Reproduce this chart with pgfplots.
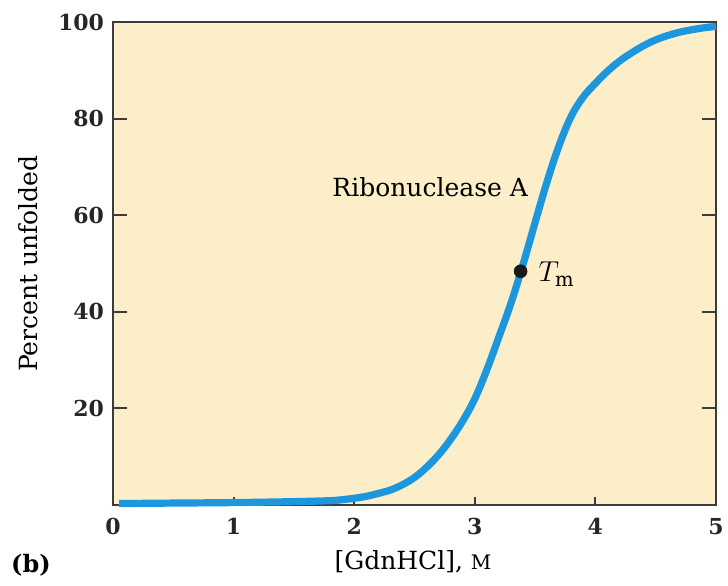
\documentclass[border=0pt]{standalone}
\usepackage{pgfplots}
\pgfplotsset{compat=1.18}
\usepackage{fontspec}
\setmainfont{DejaVu Serif}
\definecolor{bgpeach}{RGB}{253,238,202}
\definecolor{curveblue}{RGB}{28,150,220}
\definecolor{axgray}{RGB}{60,60,60}
\begin{document}
\begin{tikzpicture}
\begin{axis}[
  scale only axis,
  width=301.5pt, height=241.5pt,
  xmin=0, xmax=5, ymin=0, ymax=100,
  xtick={0,1,2,3,4,5},
  ytick={20,40,60,80,100},
  tick align=inside,
  xtick pos=bottom,
  ytick pos=both,
  major tick length=7pt,
  xtick style={/pgfplots/major tick length=4pt},
  axis line style={axgray, line width=1pt},
  every tick/.style={axgray, line width=1pt},
  axis background/.style={fill=bgpeach},
  /pgf/number format/assume math mode=true,
  ticklabel style={font=\fontsize{11}{13}\selectfont\bfseries, text=black!85},
  xticklabel style={yshift=-3pt},
  yticklabel style={xshift=-1pt},
  xlabel={[GdnHCl], {\fontsize{10}{12}\selectfont M}},
  ylabel={Percent unfolded},
  label style={font=\fontsize{12.5}{14}\selectfont},
  xlabel style={at={(axis description cs:0.4975,-0.118)}, anchor=center},
  ylabel style={at={(axis description cs:-0.1410,0.5)}, anchor=center},
  clip=false,
]
\addplot[curveblue, line width=3.6pt, smooth, tension=0.6] coordinates {
(0.05,0.3) (0.5,0.4) (1.0,0.5) (1.5,0.7) (1.8,0.9) (1.9,1.1) (2.0,1.4)
(2.1,1.8) (2.2,2.4) (2.3,3.1) (2.4,4.2) (2.5,5.7) (2.6,7.8) (2.7,10.4)
(2.8,13.6) (2.9,17.4) (3.0,22.0) (3.1,28.0) (3.2,34.8) (3.3,41.8)
(3.4,49.8) (3.5,58.5) (3.6,67.0) (3.7,74.5) (3.8,80.5) (3.9,84.5)
(4.0,87.3) (4.1,89.8) (4.2,91.9) (4.3,93.6) (4.4,95.1) (4.5,96.3)
(4.6,97.2) (4.7,97.9) (4.8,98.4) (4.9,98.8) (5.0,99.1)
};
\addplot[only marks, mark=*, mark size=3.2pt, black!90] coordinates {(3.38,48.4)};
\node[font=\fontsize{12.5}{14}\selectfont, anchor=center] at (axis cs:2.63,65.8) {Ribonuclease A};
\node[font=\fontsize{14}{16}\selectfont, anchor=west] at (axis cs:3.47,47.8) {$T_{\mathrm{m}}$};
\node[font=\fontsize{12}{14}\selectfont\bfseries, anchor=center] at (axis cs:-0.68,-12.4) {(b)};
\end{axis}
\pgfresetboundingbox
\path[use as bounding box] (-56.5pt,-40pt) rectangle (307.5pt,252.5pt);
\end{tikzpicture}
\end{document}
